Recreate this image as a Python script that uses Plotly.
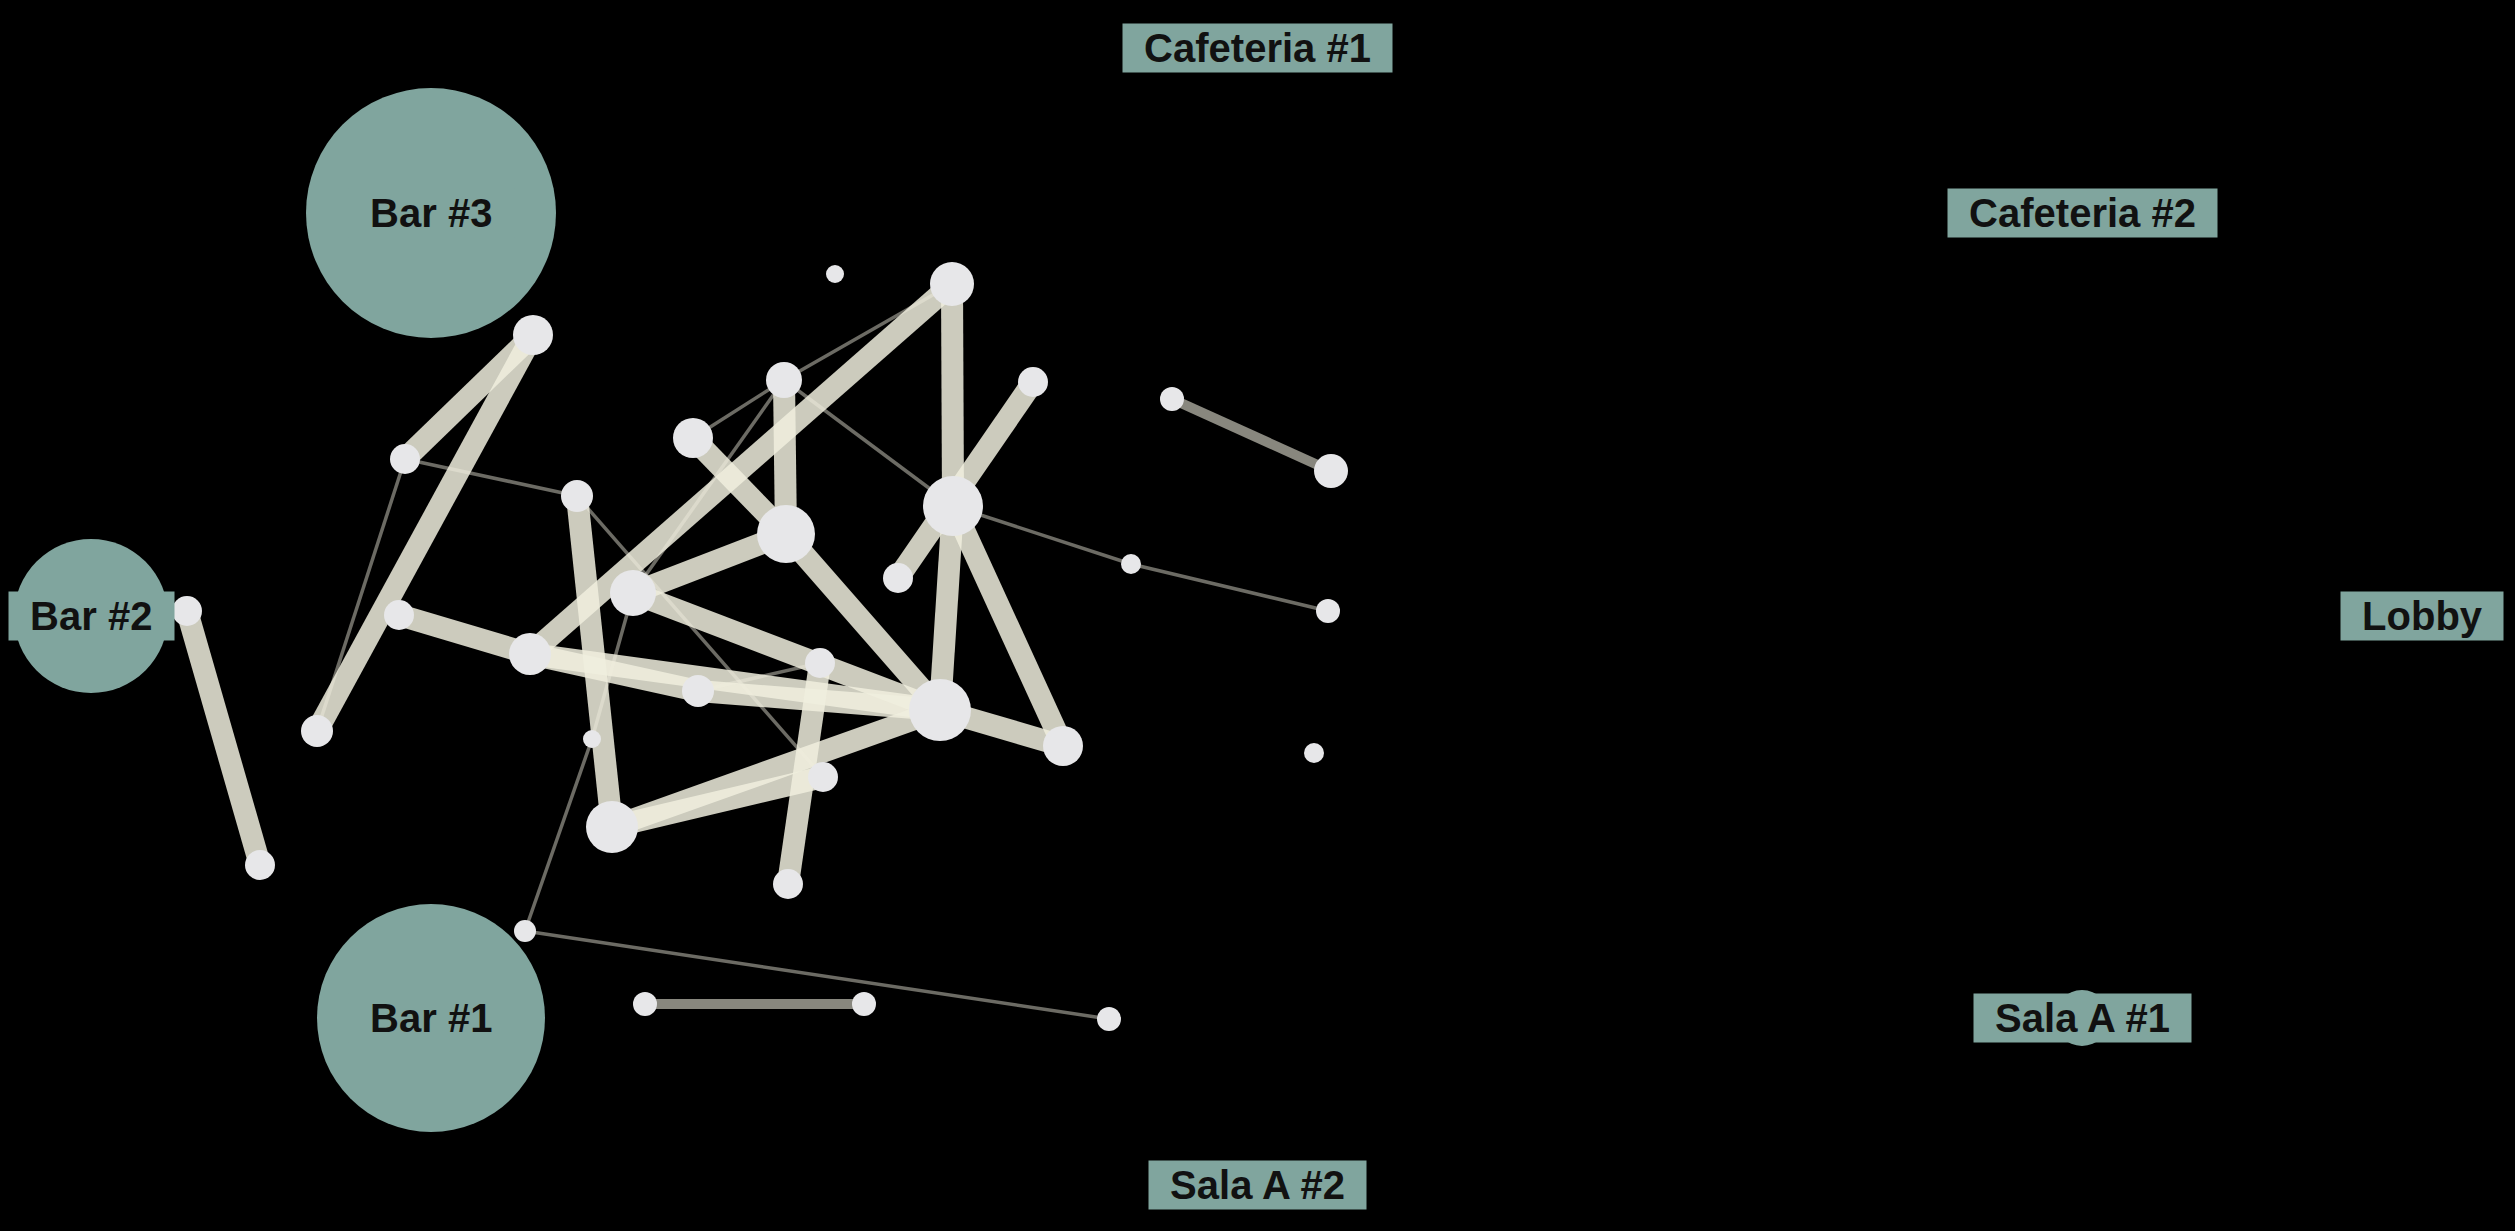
import plotly.graph_objects as go

# location nodes (rooms), placed on the outer ring
loc_names = ['Cafeteria #1', 'Cafeteria #2', 'Lobby', 'Sala A #1',
             'Sala A #2', 'Bar #1', 'Bar #2', 'Bar #3']
loc_x = [1257, 2082, 2422, 2082, 1257, 431, 91, 431]
loc_y = [48, 213, 616, 1018, 1185, 1018, 616, 213]
loc_size = [0, 0, 0, 56, 0, 228, 154, 250]

# people nodes
node_ids = ['A', 'B', 'C', 'D', 'E', 'F', 'G', 'H', 'I', 'J', 'K', 'L',
            'M', 'N', 'O', 'P', 'Q', 'R', 'S', 'T', 'U', 'V', 'W', 'X',
            'Y', 'Z', 'AA', 'AB', 'AC', 'AD', 'AE', 'AF', 'AG', 'AH']
node_x = [835, 952, 533, 784, 1033, 1172, 1331, 405, 693, 577, 786, 953,
          898, 1131, 1328, 633, 187, 399, 530, 698, 820, 940, 317, 1063,
          592, 1314, 823, 612, 788, 260, 525, 645, 864, 1109]
node_y = [274, 284, 335, 380, 382, 399, 471, 459, 438, 496, 534, 506,
          578, 564, 611, 593, 611, 615, 654, 691, 663, 710, 731, 746,
          739, 753, 777, 827, 884, 865, 931, 1004, 1004, 1019]
node_size = [18, 44, 40, 36, 30, 24, 34, 30, 40, 32, 58, 60,
             30, 20, 24, 46, 30, 30, 42, 32, 30, 62, 32, 40,
             18, 20, 30, 52, 30, 30, 22, 24, 24, 24]

# edges: (source, target, weight)
edge_src = ['C', 'C', 'Q', 'J', 'R', 'S', 'S', 'T', 'S', 'B', 'L', 'E', 'L',
            'V', 'D', 'I', 'K', 'P', 'P', 'AB', 'AB', 'U',
            'F', 'AF',
            'H', 'H', 'J', 'I', 'D', 'D', 'D', 'P', 'Y', 'AE', 'L', 'N', 'T']
edge_dst = ['H', 'W', 'AD', 'AB', 'S', 'T', 'V', 'V', 'B', 'L', 'V', 'M', 'X',
            'X', 'K', 'K', 'V', 'K', 'V', 'V', 'AA', 'AC',
            'G', 'AG',
            'W', 'J', 'AA', 'D', 'B', 'L', 'P', 'Y', 'AE', 'AH', 'N', 'O', 'U']
edge_weight = [3] * 22 + [2] * 2 + [1] * 13

width_map = {1: 3.5, 2: 10, 3: 22}
alpha_map = {1: 0.45, 2: 0.57, 3: 0.85}

pos = {n: (x, y) for n, x, y in zip(node_ids, node_x, node_y)}

fig = go.Figure()

# location circles
fig.add_trace(go.Scatter(
    x=loc_x, y=loc_y, mode='markers',
    marker=dict(size=loc_size, color='#80a59e', opacity=1, line=dict(width=0)),
    hoverinfo='text', text=loc_names, showlegend=False,
))

# edges, one trace each so overlaps brighten
for s, t, w in zip(edge_src, edge_dst, edge_weight):
    fig.add_trace(go.Scatter(
        x=[pos[s][0], pos[t][0]], y=[pos[s][1], pos[t][1]],
        mode='lines',
        line=dict(width=width_map[w], color=f'rgba(240,238,222,{alpha_map[w]})'),
        hoverinfo='skip', showlegend=False,
    ))

# people nodes
fig.add_trace(go.Scatter(
    x=node_x, y=node_y, mode='markers',
    marker=dict(size=node_size, color='#e7e7e9', opacity=1, line=dict(width=0)),
    hoverinfo='skip', showlegend=False,
))

# location labels
pad = '\u00a0\u2009'
for name, x, y in zip(loc_names, loc_x, loc_y):
    fig.add_annotation(
        x=x, y=y, text='<b>' + pad + name + pad + '</b>', showarrow=False,
        font=dict(family='Liberation Sans, Arial', size=40, color='#111111'),
        bgcolor='#80a59e', borderpad=2,
    )

fig.update_layout(
    width=2515, height=1231,
    margin=dict(l=0, r=0, t=0, b=0),
    paper_bgcolor='black', plot_bgcolor='black',
    xaxis=dict(range=[0, 2515], visible=False, fixedrange=True),
    yaxis=dict(range=[1231, 0], visible=False, fixedrange=True),
)

fig.write_html("out.html", config={'displayModeBar': False},
               post_script="document.body.style.margin='0';"
                           "document.body.style.background='black';"
                           "document.body.style.overflow='hidden';")
